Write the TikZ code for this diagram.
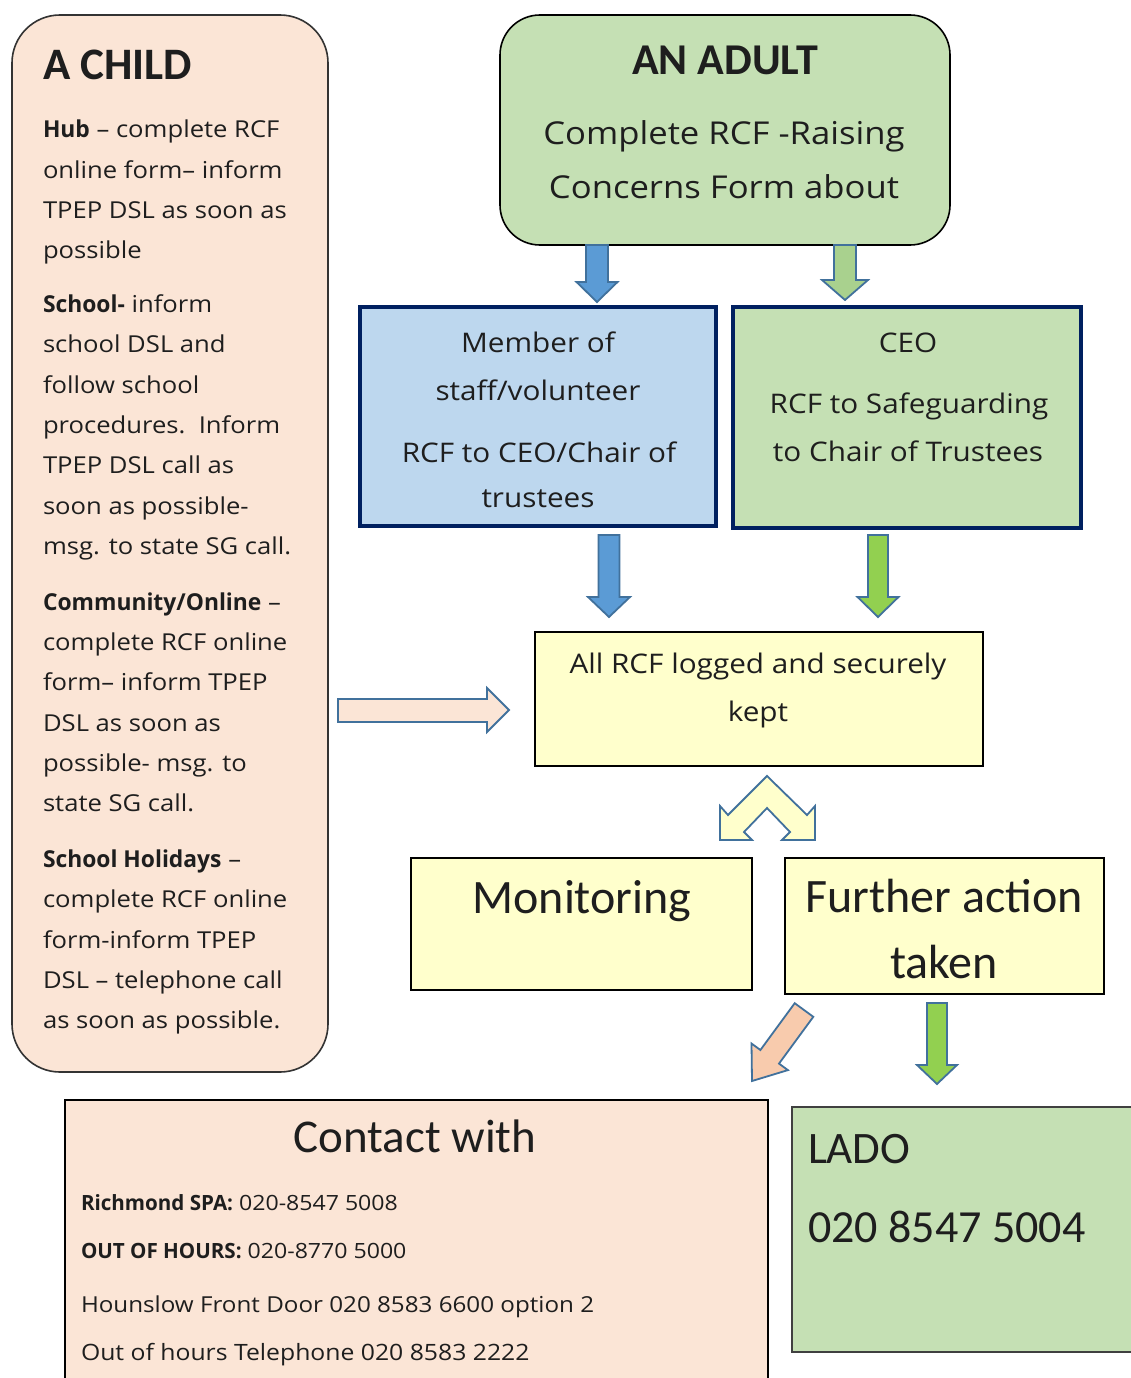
\documentclass[tikz,border=0pt]{standalone}
\usepackage{fontspec}
\setmainfont{Open Sans}[FakeStretch=1.1, BoldFeatures={FakeStretch=0.98}]
\newfontfamily\calfont{Carlito}
\definecolor{peach}{HTML}{FBE5D6}
\definecolor{lgreen}{HTML}{C5E0B4}
\definecolor{lblue}{HTML}{BDD7EE}
\definecolor{lyellow}{HTML}{FFFFCC}
\definecolor{navy}{HTML}{002060}
\definecolor{arrowedge}{HTML}{41719C}
\definecolor{barrow}{HTML}{5B9BD5}
\definecolor{garrowA}{HTML}{A9D18E}
\definecolor{garrowB}{HTML}{92D050}
\definecolor{parrow}{HTML}{F8CBAD}
\definecolor{ink}{HTML}{1E1E1E}
\newcommand\fs[1]{\fontsize{#1}{#1}\selectfont}
\newcommand\downblock[7]{%
  \draw[blockarr, fill=#7] (#1-#5,#2) -- (#1+#5,#2) -- (#1+#5,#3) -- (#1+#6,#3) -- (#1,#4) -- (#1-#6,#3) -- (#1-#5,#3) -- cycle;}
\tikzset{
  box/.style={draw, inner sep=0pt, outer sep=0pt, line width=1.6pt},
  navybox/.style={box, draw=navy, line width=3.5pt},
  txt/.style={inner sep=0pt, outer sep=0pt, text=ink},
  lt/.style={txt, anchor=base west, font=\fs{23.3}},
  ct/.style={txt, anchor=base},
  blockarr/.style={draw=arrowedge, line width=1.8pt, line join=miter},
}
\begin{document}
\begin{tikzpicture}[x=1pt, y=-1pt]
\useasboundingbox (0,0) rectangle (1131,1378);
\clip (0,0) rectangle (1131,1378);
\fill[white] (0,0) rectangle (1131,1378);

% boxes
\node[box, draw=black!80, fill=peach, rounded corners=48pt, minimum width=316pt, minimum height=1057pt] (child) at (170,543.5) {};
\node[box, fill=lgreen, rounded corners=40pt, minimum width=450pt, minimum height=230pt] (adult) at (725,130) {};
\node[navybox, fill=lblue, minimum width=356pt, minimum height=219pt] (member) at (538,416.5) {};
\node[navybox, fill=lgreen, minimum width=348pt, minimum height=221pt] (ceo) at (907,417.5) {};
\node[box, fill=lyellow, minimum width=448pt, minimum height=134pt] (logged) at (759,699) {};
\node[box, fill=lyellow, minimum width=341pt, minimum height=132pt] (monitor) at (581.5,924) {};
\node[box, fill=lyellow, minimum width=319pt, minimum height=136pt] (further) at (944.5,926) {};
\node[box, line width=2.2pt, fill=peach, minimum width=703pt, minimum height=300pt] (contact) at (416.5,1250) {};
\node[box, draw=black!75, fill=lgreen, minimum width=348pt, minimum height=245pt] (lado) at (966,1229.5) {};

% left column text
\node[txt, anchor=base west, font=\calfont\bfseries\fs{45}] (childT) at (43,80) {A CHILD};
\foreach \i/\y/\t in {
  1/138/{\textbf{Hub} – complete RCF},
  2/178/{online form– inform},
  3/218/{TPEP DSL as soon as},
  4/258/{possible},
  5/312/{\textbf{School-} inform},
  6/352/{school DSL and},
  7/393/{follow school},
  8/433/{procedures.\ \ Inform},
  9/473/{TPEP DSL call as},
  10/514/{soon as possible-},
  11/554/{msg. to state SG call.},
  12/610/{\textbf{Community/Online} –},
  13/650/{complete RCF online},
  14/690/{form– inform TPEP},
  15/731/{DSL as soon as},
  16/771/{possible- msg. to},
  17/811/{state SG call.},
  18/867/{\textbf{School Holidays} –},
  19/907/{complete RCF online},
  20/948/{form-inform TPEP},
  21/988/{DSL – telephone call},
  22/1028/{as soon as possible.}}
  \node[lt] (L\i) at (43,\y) {\t};

% adult
\node[ct, font=\calfont\bfseries\fs{44}] (adultT) at (725,75) {AN ADULT};
\node[ct, font=\fs{31.5}] (adult1) at (724,145) {Complete RCF -Raising};
\node[ct, font=\fs{31.5}] (adult2) at (724,198) {Concerns Form about};

% member
\node[ct, font=\fs{27}] (mem1) at (538,352) {Member of};
\node[ct, font=\fs{27}] (mem2) at (538,400) {staff/volunteer};
\node[ct, font=\fs{27}] (mem3) at (539,462) {RCF to CEO/Chair of};
\node[ct, font=\fs{27}] (mem4) at (538,507) {trustees};

% ceo
\node[ct, font=\fs{27}] (ceo1) at (908,352) {CEO};
\node[ct, font=\fs{27}] (ceo2) at (909,413) {RCF to Safeguarding};
\node[ct, font=\fs{27}] (ceo3) at (908,461) {to Chair of Trustees};

% logged
\node[ct, font=\fs{27}] (log1) at (758,673) {All RCF logged and securely};
\node[ct, font=\fs{27}] (log2) at (758,721) {kept};

% monitoring / further
\node[ct, font=\calfont\fs{48}] (monT) at (582,913) {Monitoring};
\node[ct, font=\calfont\fs{48}] (fur1) at (944,912) {Further action};
\node[ct, font=\calfont\fs{48}] (fur2) at (944,978) {taken};

% contact
\node[ct, font=\calfont\fs{47}] (conT) at (415,1152) {Contact with};
\node[lt, font=\fs{21}] (con1) at (81,1210) {\textbf{Richmond SPA:} 020-8547 5008};
\node[lt, font=\fs{21}] (con2) at (81,1258) {\textbf{OUT OF HOURS:} 020-8770 5000};
\node[lt, font=\fs{22}] (con3) at (81,1312) {Hounslow Front Door 020 8583 6600 option 2};
\node[lt, font=\fs{22.5}] (con4) at (81,1360) {Out of hours Telephone 020 8583 2222};

% lado
\node[txt, anchor=base west, font=\calfont\fs{45}] (ladoT) at (808,1163) {LADO};
\node[txt, anchor=base west, font=\calfont\fs{46}] (ladoN) at (808,1242) {020 8547 5004};

% block arrows
\downblock{597}{245}{282}{302}{11}{20.5}{barrow}
\downblock{845}{245}{280}{300}{11}{23}{garrowA}
\downblock{609}{535}{597}{617}{10.5}{21}{barrow}
\downblock{878}{535}{597}{617}{10}{20.5}{garrowB}
\downblock{937}{1003}{1065}{1084}{10}{20}{garrowB}
\draw[blockarr, fill=peach] (338,699) -- (487,699) -- (487,688) -- (509,710) -- (487,732) -- (487,722) -- (338,722) -- cycle;
\draw[blockarr, fill=parrow] (794.7,1003.2) -- (813.3,1016.8) -- (779,1063.6) -- (787.9,1070.1) -- (752,1081) -- (751.5,1043.5) -- (760.4,1050) -- cycle;
\draw[blockarr, fill=lyellow] (767,776) -- (807,815) -- (815,806) -- (815,840) -- (782,840) -- (790,832) -- (767,808) -- (744,832) -- (752,840) -- (720,840) -- (720,806) -- (728,815) -- cycle;
\end{tikzpicture}
\end{document}
